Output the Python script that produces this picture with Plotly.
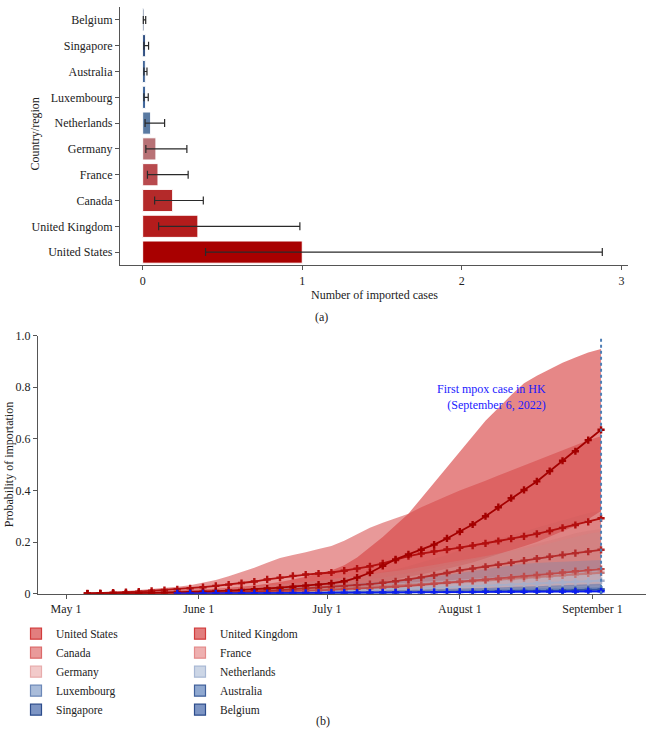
import plotly.graph_objects as go

# ---------------- Panel (a) data ----------------
bar_countries = ["United States", "United Kingdom", "Canada", "France", "Germany",
                 "Netherlands", "Luxembourg", "Australia", "Singapore", "Belgium"]
imported_cases = [1.0, 0.346, 0.188, 0.096, 0.083, 0.05, 0.017, 0.016, 0.017, 0.008]
cases_low = [0.394, 0.10, 0.075, 0.03, 0.02, 0.015, 0.008, 0.008, 0.008, 0.004]
cases_high = [2.88, 0.985, 0.38, 0.285, 0.277, 0.1375, 0.035, 0.027, 0.037, 0.019]
bar_colors = ["#a80000", "#b31c1c", "#b42a2a", "#b84a4e", "#b87276",
              "#5a7aa2", "#24508c", "#1f4a86", "#173a72", "#122c5c"]

# ---------------- Panel (b) data ----------------
dates = ["2022-05-06", "2022-05-09", "2022-05-12", "2022-05-15", "2022-05-18", "2022-05-21",
         "2022-05-24", "2022-05-27", "2022-05-30", "2022-06-02", "2022-06-05", "2022-06-08",
         "2022-06-11", "2022-06-14", "2022-06-17", "2022-06-20", "2022-06-23", "2022-06-26",
         "2022-06-29", "2022-07-02", "2022-07-05", "2022-07-08", "2022-07-11", "2022-07-14",
         "2022-07-17", "2022-07-20", "2022-07-23", "2022-07-26", "2022-07-29", "2022-08-01",
         "2022-08-04", "2022-08-07", "2022-08-10", "2022-08-13", "2022-08-16", "2022-08-19",
         "2022-08-22", "2022-08-25", "2022-08-28", "2022-08-31", "2022-09-03"]

us_mean = [0, 0, 0.001, 0.001, 0.002, 0.003, 0.004, 0.005, 0.006,
           0.008, 0.010, 0.012, 0.014, 0.017, 0.020, 0.023, 0.027, 0.031, 0.035,
           0.040, 0.048, 0.062, 0.081, 0.108, 0.133, 0.152, 0.170, 0.190, 0.214,
           0.240, 0.268, 0.300, 0.335, 0.370, 0.402, 0.435, 0.475, 0.515, 0.552, 0.595,
           0.635]
us_hi = [0, 0, 0.002, 0.003, 0.005, 0.007, 0.009, 0.011, 0.013,
         0.016, 0.019, 0.023, 0.027, 0.032, 0.038, 0.045, 0.055, 0.065, 0.078,
         0.090, 0.110, 0.140, 0.180, 0.220, 0.265, 0.310, 0.370, 0.430, 0.490,
         0.550, 0.610, 0.670, 0.720, 0.770, 0.815, 0.845, 0.870, 0.895, 0.915, 0.935,
         0.948]
us_lo = [0, 0, 0, 0, 0.001, 0.001, 0.002, 0.002, 0.003,
         0.004, 0.005, 0.006, 0.007, 0.008, 0.009, 0.011, 0.013, 0.015, 0.017,
         0.019, 0.022, 0.027, 0.034, 0.045, 0.056, 0.065, 0.074, 0.084, 0.096,
         0.108, 0.121, 0.136, 0.152, 0.168, 0.184, 0.200, 0.220, 0.242, 0.262, 0.288,
         0.320]

uk_mean = [0.001, 0.002, 0.004, 0.006, 0.008, 0.011, 0.014, 0.017, 0.021,
           0.025, 0.030, 0.035, 0.041, 0.047, 0.055, 0.062, 0.069, 0.074, 0.078,
           0.082, 0.089, 0.097, 0.106, 0.117, 0.130, 0.145, 0.155, 0.164, 0.171,
           0.178, 0.186, 0.195, 0.204, 0.213, 0.222, 0.232, 0.243, 0.255, 0.266, 0.278,
           0.292]
uk_hi = [0.002, 0.004, 0.007, 0.010, 0.014, 0.018, 0.022, 0.027, 0.033,
         0.042, 0.053, 0.067, 0.082, 0.100, 0.120, 0.138, 0.150, 0.160, 0.173,
         0.185, 0.205, 0.230, 0.255, 0.275, 0.292, 0.310, 0.335, 0.355, 0.378,
         0.400, 0.418, 0.438, 0.458, 0.478, 0.498, 0.515, 0.535, 0.555, 0.575, 0.595,
         0.610]
uk_lo = [0, 0, 0.001, 0.001, 0.002, 0.003, 0.004, 0.005, 0.006,
         0.007, 0.008, 0.010, 0.012, 0.014, 0.016, 0.018, 0.020, 0.022, 0.024,
         0.025, 0.027, 0.029, 0.032, 0.035, 0.039, 0.043, 0.046, 0.049, 0.052,
         0.055, 0.058, 0.061, 0.064, 0.067, 0.070, 0.074, 0.078, 0.083, 0.088, 0.094,
         0.100]

ca_mean = [0, 0, 0, 0, 0.001, 0.001, 0.001, 0.002, 0.002,
           0.003, 0.004, 0.005, 0.007, 0.009, 0.011, 0.014, 0.017, 0.020, 0.023,
           0.026, 0.029, 0.033, 0.037, 0.042, 0.048, 0.055, 0.063, 0.071, 0.080,
           0.090, 0.097, 0.104, 0.112, 0.120, 0.128, 0.136, 0.143, 0.150, 0.157, 0.163,
           0.170]
ca_hi = [0, 0, 0, 0.001, 0.002, 0.003, 0.004, 0.005, 0.006,
         0.008, 0.010, 0.013, 0.016, 0.020, 0.024, 0.029, 0.035, 0.041, 0.047,
         0.053, 0.059, 0.066, 0.074, 0.083, 0.094, 0.106, 0.120, 0.134, 0.150,
         0.168, 0.182, 0.196, 0.210, 0.225, 0.240, 0.255, 0.270, 0.285, 0.300, 0.312,
         0.320]
ca_lo = [0, 0, 0, 0, 0, 0, 0, 0.001, 0.001,
         0.001, 0.002, 0.002, 0.003, 0.004, 0.005, 0.006, 0.008, 0.009, 0.010,
         0.012, 0.013, 0.015, 0.017, 0.019, 0.022, 0.025, 0.028, 0.032, 0.036,
         0.040, 0.043, 0.046, 0.050, 0.053, 0.057, 0.060, 0.064, 0.067, 0.070, 0.073,
         0.076]

fr_mean = [0, 0, 0, 0, 0, 0.001, 0.001, 0.001, 0.002,
           0.002, 0.003, 0.004, 0.005, 0.006, 0.007, 0.008, 0.009, 0.011, 0.013,
           0.015, 0.017, 0.019, 0.021, 0.024, 0.027, 0.030, 0.034, 0.038, 0.042,
           0.046, 0.050, 0.054, 0.058, 0.062, 0.067, 0.072, 0.077, 0.082, 0.087, 0.091,
           0.095]
fr_hi = [0, 0, 0, 0, 0.001, 0.002, 0.003, 0.004, 0.005,
         0.006, 0.008, 0.010, 0.012, 0.015, 0.018, 0.021, 0.025, 0.029, 0.034,
         0.039, 0.044, 0.050, 0.056, 0.063, 0.071, 0.080, 0.090, 0.100, 0.110,
         0.121, 0.132, 0.143, 0.155, 0.167, 0.180, 0.193, 0.206, 0.220, 0.234, 0.244,
         0.250]
fr_lo = [0, 0, 0, 0, 0, 0, 0, 0, 0.001,
         0.001, 0.001, 0.001, 0.002, 0.002, 0.002, 0.003, 0.003, 0.004, 0.004,
         0.005, 0.006, 0.006, 0.007, 0.008, 0.009, 0.010, 0.011, 0.013, 0.014,
         0.015, 0.017, 0.018, 0.019, 0.021, 0.022, 0.024, 0.026, 0.027, 0.029, 0.031,
         0.033]

de_mean = [0, 0, 0.001, 0.001, 0.002, 0.002, 0.003, 0.004, 0.005,
           0.006, 0.007, 0.008, 0.009, 0.010, 0.012, 0.013, 0.015, 0.017, 0.019,
           0.021, 0.023, 0.025, 0.027, 0.030, 0.032, 0.035, 0.037, 0.040, 0.042,
           0.045, 0.048, 0.051, 0.054, 0.057, 0.060, 0.063, 0.067, 0.071, 0.075, 0.078,
           0.081]
de_hi = [0, 0.001, 0.002, 0.003, 0.004, 0.006, 0.008, 0.010, 0.012,
         0.014, 0.017, 0.020, 0.023, 0.027, 0.031, 0.035, 0.040, 0.045, 0.050,
         0.056, 0.062, 0.068, 0.074, 0.081, 0.088, 0.095, 0.103, 0.111, 0.119,
         0.128, 0.137, 0.146, 0.155, 0.164, 0.174, 0.184, 0.195, 0.207, 0.220, 0.232,
         0.240]
de_lo = [0, 0, 0, 0, 0, 0, 0.001, 0.001, 0.001,
         0.001, 0.001, 0.002, 0.002, 0.002, 0.002, 0.003, 0.003, 0.003, 0.004,
         0.004, 0.004, 0.005, 0.005, 0.006, 0.006, 0.007, 0.007, 0.008, 0.008,
         0.009, 0.009, 0.010, 0.011, 0.011, 0.012, 0.013, 0.013, 0.014, 0.015, 0.016,
         0.017]

nl_mean = [0, 0, 0, 0, 0.001, 0.001, 0.001, 0.002, 0.002,
           0.003, 0.003, 0.004, 0.005, 0.005, 0.006, 0.007, 0.008, 0.009, 0.010,
           0.011, 0.012, 0.013, 0.015, 0.016, 0.018, 0.019, 0.021, 0.023, 0.025,
           0.027, 0.029, 0.031, 0.033, 0.035, 0.037, 0.039, 0.041, 0.043, 0.046, 0.048,
           0.050]
nl_hi = [0, 0, 0.001, 0.002, 0.003, 0.004, 0.005, 0.006, 0.007,
         0.008, 0.010, 0.012, 0.014, 0.016, 0.018, 0.020, 0.023, 0.026, 0.029,
         0.032, 0.035, 0.038, 0.042, 0.046, 0.050, 0.055, 0.060, 0.066, 0.072,
         0.080, 0.088, 0.096, 0.104, 0.110, 0.116, 0.120, 0.122, 0.124, 0.126, 0.128,
         0.130]
nl_lo = [0, 0, 0, 0, 0, 0, 0, 0, 0,
         0, 0, 0.001, 0.001, 0.001, 0.001, 0.001, 0.002, 0.002, 0.002,
         0.002, 0.003, 0.003, 0.003, 0.004, 0.004, 0.004, 0.005, 0.005, 0.005,
         0.006, 0.006, 0.007, 0.007, 0.008, 0.008, 0.009, 0.009, 0.010, 0.010, 0.011,
         0.011]

lu_mean = [None, None, None, None, None, None, 0, 0, 0,
           0, 0, 0.001, 0.001, 0.001, 0.001, 0.002, 0.002, 0.002, 0.003,
           0.003, 0.003, 0.004, 0.004, 0.005, 0.005, 0.006, 0.006, 0.007, 0.007,
           0.008, 0.008, 0.009, 0.009, 0.010, 0.010, 0.011, 0.012, 0.013, 0.014, 0.014,
           0.015]
lu_hi = [0, 0, 0, 0, 0, 0, 0, 0, 0,
         0.001, 0.001, 0.002, 0.003, 0.003, 0.004, 0.005, 0.006, 0.006, 0.007,
         0.008, 0.009, 0.010, 0.011, 0.012, 0.013, 0.014, 0.015, 0.017, 0.018,
         0.019, 0.021, 0.022, 0.024, 0.025, 0.027, 0.029, 0.031, 0.033, 0.035, 0.037,
         0.039]
lu_lo = [0, 0, 0, 0, 0, 0, 0, 0, 0,
         0, 0, 0, 0, 0, 0.001, 0.001, 0.001, 0.001, 0.001,
         0.001, 0.002, 0.002, 0.002, 0.002, 0.003, 0.003, 0.003, 0.004, 0.004,
         0.004, 0.004, 0.005, 0.005, 0.005, 0.006, 0.006, 0.006, 0.007, 0.007, 0.007,
         0.008]

au_mean = [None, None, None, None, None, None, None, 0, 0,
           0, 0, 0, 0.001, 0.001, 0.001, 0.001, 0.002, 0.002, 0.002,
           0.003, 0.003, 0.003, 0.004, 0.004, 0.005, 0.005, 0.006, 0.006, 0.007,
           0.007, 0.008, 0.008, 0.009, 0.010, 0.010, 0.011, 0.012, 0.013, 0.014, 0.015,
           0.016]
au_hi = [0, 0, 0, 0, 0, 0, 0, 0, 0,
         0.001, 0.001, 0.001, 0.002, 0.002, 0.003, 0.003, 0.004, 0.004, 0.005,
         0.006, 0.006, 0.007, 0.008, 0.009, 0.010, 0.011, 0.012, 0.013, 0.014,
         0.015, 0.016, 0.017, 0.018, 0.019, 0.020, 0.021, 0.022, 0.023, 0.024, 0.025,
         0.026]
au_lo = [0, 0, 0, 0, 0, 0, 0, 0, 0,
         0, 0, 0, 0, 0, 0, 0.001, 0.001, 0.001, 0.001,
         0.001, 0.001, 0.002, 0.002, 0.002, 0.002, 0.003, 0.003, 0.003, 0.004,
         0.004, 0.004, 0.004, 0.005, 0.005, 0.005, 0.006, 0.006, 0.006, 0.007, 0.007,
         0.008]

sg_mean = [None, None, None, None, None, None, None, None, 0,
           0, 0, 0, 0.001, 0.001, 0.001, 0.001, 0.002, 0.002, 0.002,
           0.003, 0.003, 0.004, 0.004, 0.004, 0.005, 0.005, 0.006, 0.006, 0.007,
           0.008, 0.008, 0.009, 0.009, 0.010, 0.011, 0.011, 0.012, 0.013, 0.014, 0.015,
           0.016]
sg_hi = [0, 0, 0, 0, 0, 0, 0, 0, 0,
         0.001, 0.001, 0.002, 0.003, 0.003, 0.004, 0.005, 0.006, 0.006, 0.007,
         0.008, 0.009, 0.010, 0.011, 0.012, 0.013, 0.014, 0.015, 0.017, 0.018,
         0.019, 0.021, 0.022, 0.024, 0.025, 0.027, 0.029, 0.031, 0.033, 0.035, 0.036,
         0.037]
sg_lo = [0, 0, 0, 0, 0, 0, 0, 0, 0,
         0, 0, 0, 0, 0, 0, 0.001, 0.001, 0.001, 0.001,
         0.001, 0.001, 0.002, 0.002, 0.002, 0.002, 0.003, 0.003, 0.003, 0.004,
         0.004, 0.004, 0.004, 0.005, 0.005, 0.005, 0.006, 0.006, 0.006, 0.007, 0.007,
         0.008]

be_mean = [None, None, None, None, None, None, None, 0.001, 0.001,
           0.001, 0.001, 0.002, 0.002, 0.002, 0.002, 0.003, 0.003, 0.003, 0.003,
           0.004, 0.004, 0.004, 0.004, 0.005, 0.005, 0.005, 0.005, 0.006, 0.006,
           0.006, 0.006, 0.007, 0.007, 0.007, 0.007, 0.008, 0.008, 0.008, 0.008, 0.009,
           0.009]
be_hi = [0, 0, 0, 0, 0, 0, 0, 0.002, 0.002,
         0.003, 0.003, 0.004, 0.004, 0.005, 0.005, 0.006, 0.006, 0.007, 0.007,
         0.008, 0.008, 0.009, 0.009, 0.010, 0.010, 0.011, 0.011, 0.012, 0.012,
         0.013, 0.013, 0.014, 0.014, 0.015, 0.015, 0.016, 0.016, 0.017, 0.017, 0.018,
         0.019]
be_lo = [0, 0, 0, 0, 0, 0, 0, 0, 0,
         0, 0, 0, 0.001, 0.001, 0.001, 0.001, 0.001, 0.001, 0.001,
         0.002, 0.002, 0.002, 0.002, 0.002, 0.002, 0.002, 0.003, 0.003, 0.003,
         0.003, 0.003, 0.003, 0.003, 0.004, 0.004, 0.004, 0.004, 0.004, 0.004, 0.004,
         0.004]

line_countries = ["United States", "United Kingdom", "Canada", "France", "Germany",
                  "Netherlands", "Luxembourg", "Australia", "Singapore", "Belgium"]
line_colors = ["#a40000", "#b30f0f", "#b52a2a", "#c04a4a", "#c47a7a",
               "#a8aec8", "#b0c0dc", "#7a98c8", "#3454a0", "#0a1cf0"]
band_colors = ["rgba(214,62,62,0.62)", "rgba(214,70,70,0.55)", "rgba(205,95,95,0.35)",
               "rgba(205,115,115,0.30)", "rgba(200,140,140,0.30)", "rgba(125,135,170,0.35)",
               "rgba(100,130,180,0.30)", "rgba(80,110,170,0.30)", "rgba(60,90,160,0.30)",
               "rgba(40,70,150,0.30)"]
legend_fill = ["#e27e7e", "#e27e7e", "#e99a9a", "#eeb0b0", "#f2caca",
               "#ccd6e6", "#a9bcda", "#8fa8d0", "#7d95c4", "#7d95c4"]
legend_edge = ["#d23c3c", "#d23c3c", "#dc6a6a", "#e48a8a", "#e8acac",
               "#a8b8d4", "#6c88b8", "#3f5f9a", "#2c4c8c", "#2c4c8c"]

means = [us_mean, uk_mean, ca_mean, fr_mean, de_mean, nl_mean, lu_mean, au_mean, sg_mean, be_mean]
his = [us_hi, uk_hi, ca_hi, fr_hi, de_hi, nl_hi, lu_hi, au_hi, sg_hi, be_hi]
los = [us_lo, uk_lo, ca_lo, fr_lo, de_lo, nl_lo, lu_lo, au_lo, sg_lo, be_lo]

tick_dates = ["2022-05-01", "2022-06-01", "2022-07-01", "2022-08-01", "2022-09-01"]
tick_labels = ["May 1", "June 1", "July 1", "August 1", "September 1"]
prob_ticks = [0, 0.2, 0.4, 0.6, 0.8, 1.0]
prob_labels = ["0", "0.2", "0.4", "0.6", "0.8", "1.0"]

FONT = "Liberation Serif"
W, H = 646, 737
AX = "#555555"

fig = go.Figure()

# ---- Panel (a): bars ----
fig.add_trace(go.Bar(
    x=imported_cases, y=bar_countries, orientation="h",
    marker=dict(color=bar_colors, line=dict(color="white", width=1)),
    width=0.86,
    error_x=dict(type="data", symmetric=False,
                 array=[h - m for h, m in zip(cases_high, imported_cases)],
                 arrayminus=[m - l for m, l in zip(imported_cases, cases_low)],
                 color="#2a2a2a", thickness=1.2, width=4),
    xaxis="x", yaxis="y", showlegend=False, hoverinfo="skip"))

# ---- Panel (b): bands ----
for i, c in enumerate(line_countries):
    fig.add_trace(go.Scatter(
        x=dates + dates[::-1], y=his[i] + los[i][::-1],
        fill="toself", fillcolor=band_colors[i], mode="lines",
        line=dict(width=0), xaxis="x2", yaxis="y2",
        showlegend=False, hoverinfo="skip"))

# ---- Panel (b): mean lines ----
order = [5, 6, 7, 8, 4, 3, 2, 1, 0, 9]
for i in order:
    fig.add_trace(go.Scatter(
        x=dates, y=means[i], mode="lines+markers",
        line=dict(color=line_colors[i], width=1.8),
        marker=dict(symbol="cross", size=6, color=line_colors[i]),
        xaxis="x2", yaxis="y2", showlegend=False, connectgaps=False,
        hoverinfo="skip"))

# ---- Legend entries (two columns) ----
for i, c in enumerate(line_countries):
    fig.add_trace(go.Scatter(
        x=[None], y=[None], mode="markers", name=c,
        marker=dict(symbol="square", size=11, color=legend_fill[i],
                    line=dict(color=legend_edge[i], width=1.2)),
        xaxis="x2", yaxis="y2",
        legend="legend" if i % 2 == 0 else "legend2"))

def py(px):
    return 1 - px / H

def pxx(px):
    return px / W

axis_common = dict(showline=True, linecolor=AX, linewidth=1.2, ticks="outside",
                   ticklen=4, tickcolor=AX, tickwidth=1.2, showgrid=False, zeroline=False,
                   tickfont=dict(family=FONT, size=12, color="#222"))

def label(text, x, y, angle=0, color="#222", xanchor="center"):
    return dict(text=text, x=pxx(x), y=py(y), xref="paper", yref="paper",
                xanchor=xanchor, yanchor="middle", textangle=angle, showarrow=False,
                font=dict(family=FONT, size=12, color=color))

hk = label("First mpox case in HK<br>(September 6, 2022)", 548, 398,
           color="#1a1aff", xanchor="right")
hk["align"] = "right"

fig.update_layout(
    width=W, height=H, margin=dict(l=0, r=0, t=0, b=0),
    paper_bgcolor="white", plot_bgcolor="white",
    font=dict(family=FONT, size=12, color="#222"),
    xaxis=dict(domain=[pxx(120), pxx(628)], range=[-0.142, 3.041], anchor="y",
               tickvals=[0, 1, 2, 3], **axis_common),
    yaxis=dict(domain=[py(263), 1.0], anchor="x", type="category",
               categoryorder="array", categoryarray=bar_countries, range=[-0.5, 9.5],
               **axis_common),
    xaxis2=dict(domain=[pxx(38), 1.0], range=["2022-04-24 11:00", "2022-09-13 12:00"],
                anchor="y2", type="date", tickvals=tick_dates, ticktext=tick_labels,
                **axis_common),
    yaxis2=dict(domain=[py(598), py(335)], range=[0, 1], anchor="x2",
                tickvals=prob_ticks, ticktext=prob_labels, **axis_common),
    legend=dict(x=pxx(16), y=py(624), xanchor="left", yanchor="top",
                orientation="v", font=dict(family=FONT, size=11.5, color="#222"),
                bgcolor="rgba(0,0,0,0)", tracegroupgap=0),
    legend2=dict(x=pxx(180), y=py(624), xanchor="left", yanchor="top",
                 orientation="v", font=dict(family=FONT, size=11.5, color="#222"),
                 bgcolor="rgba(0,0,0,0)", tracegroupgap=0),
    showlegend=True,
    shapes=[dict(type="line", xref="x2", yref="y2", x0="2022-09-03", x1="2022-09-03",
                 y0=0, y1=1, line=dict(color="#4f7fb5", width=2, dash="dot"))],
    annotations=[
        label("Country/region", 35, 130, angle=-90),
        label("Number of imported cases", 374, 294),
        label("(a)", 321, 316),
        label("Probability of importation", 9, 467, angle=-90),
        label("(b)", 323, 728),
        hk,
    ],
)

fig.write_html("out.html")
